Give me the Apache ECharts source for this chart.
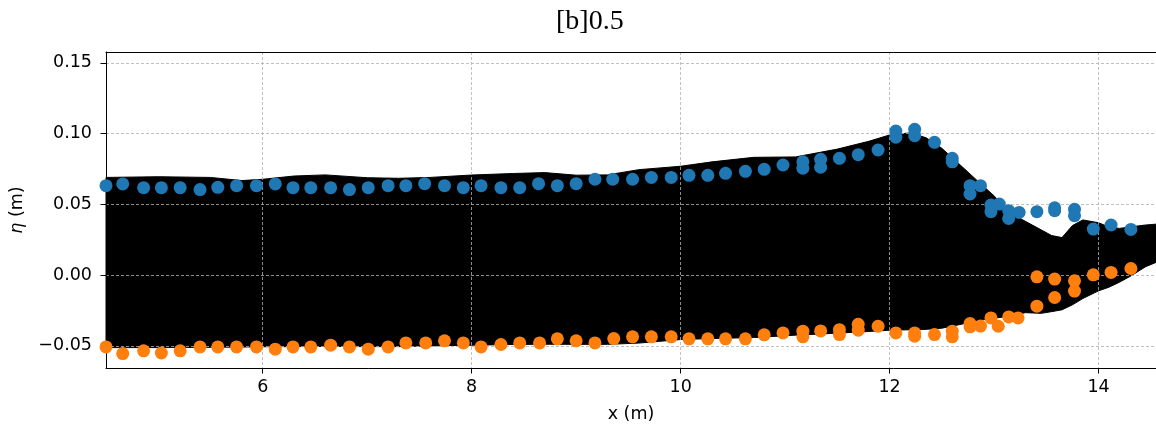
<!DOCTYPE html>
<html>
<head>
<meta charset="utf-8">
<script src="https://cdn.jsdelivr.net/npm/echarts@6/dist/echarts.min.js"></script>
<style>
  html, body { margin: 0; padding: 0; background: #fff; }
  #chart { width: 1156px; height: 430px; }
</style>
</head>
<body>
<div id="chart"></div>
<script>
// envelope of the surface elevation (black band)
const envX = [4.5, 5.0, 5.5, 5.8, 6.0, 6.3, 6.6, 7.0, 7.3, 7.6, 8.0, 8.4, 8.7, 9.0, 9.3, 9.6,
  10.0, 10.3, 10.7, 11.1, 11.5, 11.8, 12.0, 12.2, 12.35, 12.5, 12.7, 12.85, 13.0, 13.15,
  13.3, 13.45, 13.55, 13.65, 13.75, 13.85, 14.0, 14.1, 14.2, 14.3, 14.45, 14.55]
const envUpper = [0.069, 0.0695, 0.069, 0.0668, 0.0677, 0.070, 0.0708, 0.0688, 0.0684, 0.069,
  0.0707, 0.0718, 0.0724, 0.0706, 0.0708, 0.0745, 0.0769, 0.080, 0.0832, 0.0835, 0.089,
  0.0945, 0.099, 0.1005, 0.097, 0.0896, 0.0762, 0.066, 0.056, 0.044, 0.038, 0.032, 0.028,
  0.0265, 0.035, 0.039, 0.037, 0.034, 0.033, 0.034, 0.0354, 0.036]
const envLower = [-0.0512, -0.0512, -0.051, -0.0508, -0.0506, -0.0505, -0.0504, -0.0505,
  -0.0505, -0.050, -0.0495, -0.049, -0.0488, -0.0489, -0.0489, -0.048, -0.0455, -0.0448,
  -0.0441, -0.0424, -0.041, -0.0398, -0.0389, -0.0386, -0.0383, -0.0375, -0.0345, -0.032,
  -0.0305, -0.029, -0.0265, -0.027, -0.0258, -0.0245, -0.021, -0.0165, -0.0111, -0.0085,
  -0.005, -0.001, 0.0059, 0.009]

// measured crests (blue) and troughs (orange)
const crestX = [4.50, 4.66, 4.86, 5.03, 5.21, 5.40, 5.57, 5.75, 5.94, 6.12, 6.29, 6.46, 6.65,
  6.83, 7.01, 7.20, 7.37, 7.55, 7.74, 7.92, 8.09, 8.28, 8.46, 8.64, 8.82, 9.00, 9.18, 9.35,
  9.54, 9.72, 9.91, 10.08, 10.26, 10.43, 10.62, 10.80, 10.98, 11.17, 11.17, 11.34, 11.34,
  11.52, 11.70, 11.89, 12.06, 12.06, 12.24, 12.24, 12.43, 12.60, 12.60, 12.77, 12.77, 12.87,
  12.97, 12.97, 13.05, 13.14, 13.14, 13.24, 13.41, 13.58, 13.58, 13.77, 13.77, 13.95, 14.12, 14.31]
const crestY = [0.0632, 0.0644, 0.0618, 0.0618, 0.0618, 0.0604, 0.0620, 0.0632, 0.0632, 0.0644,
  0.0618, 0.0618, 0.0618, 0.0604, 0.0618, 0.0632, 0.0632, 0.0646, 0.0632, 0.0618, 0.0632,
  0.0618, 0.0618, 0.0646, 0.0632, 0.0646, 0.0677, 0.0677, 0.0677, 0.0690, 0.0690, 0.0705,
  0.0705, 0.0719, 0.0733, 0.0747, 0.0778, 0.0800, 0.0755, 0.0818, 0.0762, 0.0825, 0.0851,
  0.0884, 0.1018, 0.0974, 0.1030, 0.0985, 0.0938, 0.0825, 0.0800, 0.0632, 0.0573, 0.0632,
  0.0495, 0.0448, 0.0502, 0.0455, 0.0400, 0.0443, 0.0448, 0.0476, 0.0455, 0.0465, 0.0420,
  0.0325, 0.0354, 0.0323]

const troughX = [4.50, 4.66, 4.86, 5.03, 5.21, 5.40, 5.57, 5.75, 5.94, 6.12, 6.29, 6.46, 6.65,
  6.83, 7.01, 7.20, 7.37, 7.56, 7.74, 7.92, 8.09, 8.28, 8.46, 8.65, 8.82, 9.00, 9.18, 9.36,
  9.54, 9.72, 9.91, 10.08, 10.26, 10.43, 10.62, 10.80, 10.98, 11.17, 11.17, 11.34, 11.52,
  11.52, 11.70, 11.70, 11.89, 12.06, 12.24, 12.24, 12.43, 12.60, 12.60, 12.77, 12.77, 12.87,
  12.97, 13.04, 13.14, 13.23, 13.41, 13.41, 13.58, 13.58, 13.77, 13.77, 13.95, 14.12, 14.31]
const troughY = [-0.0507, -0.0554, -0.0535, -0.0550, -0.0535, -0.0507, -0.0507, -0.0507,
  -0.0507, -0.0523, -0.0507, -0.0507, -0.0495, -0.0507, -0.0523, -0.0507, -0.0479, -0.0479,
  -0.0464, -0.0479, -0.0507, -0.0490, -0.0479, -0.0479, -0.0450, -0.0464, -0.0479, -0.0448,
  -0.0436, -0.0436, -0.0436, -0.0450, -0.0450, -0.0450, -0.0450, -0.0422, -0.0408, -0.0396,
  -0.0436, -0.0394, -0.0385, -0.0420, -0.0347, -0.0389, -0.0361, -0.0408, -0.0408, -0.0431,
  -0.0420, -0.0396, -0.0436, -0.0342, -0.0365, -0.0360, -0.0302, -0.0361, -0.0295, -0.0302,
  -0.0219, -0.0012, -0.0028, -0.0158, -0.0040, -0.0113, 0.0002, 0.0019, 0.0047]

const xMin = 4.5
const xMax = 14.55
const yMin = -0.0656
const yMax = 0.1576

const chart = echarts.init(document.getElementById('chart'), null, { renderer: 'canvas' })

const labelFont = { color: '#000', fontFamily: 'DejaVu Sans', fontSize: 17.5 }
const gridLine = { show: true, lineStyle: { color: '#b0b0b0', width: 0.8, type: [3, 2] } }

// band between lower and upper envelope, drawn through the axes' coord()
function renderBand(params, api) {
  const pts = []
  for (let i = 0; i < envX.length; i++) pts.push(api.coord([envX[i], envUpper[i]]))
  for (let i = envX.length - 1; i >= 0; i--) pts.push(api.coord([envX[i], envLower[i]]))
  return {
    type: 'polygon',
    shape: { points: pts },
    style: { fill: '#000', stroke: '#000', lineWidth: 1 }
  }
}

const option = {
  animation: false,
  backgroundColor: '#fff',
  title: {
    text: '[b]0.5',
    left: 551,
    top: 3,
    textStyle: { fontFamily: 'Liberation Serif', fontSize: 28, fontWeight: 'normal', color: '#000' }
  },
  grid: { left: 106, right: -10, top: 52, bottom: 62 },
  xAxis: [
    {
      type: 'value',
      min: xMin,
      max: xMax,
      z: 3,
      minInterval: 2,
      maxInterval: 2,
      name: 'x (m)',
      nameLocation: 'middle',
      nameGap: 37,
      nameTextStyle: labelFont,
      axisLine: { show: true, onZero: false, lineStyle: { color: '#000', width: 1 } },
      axisTick: { show: true, length: 5.5, lineStyle: { color: '#000', width: 1 } },
      axisLabel: Object.assign({ margin: 10, showMinLabel: false, showMaxLabel: false,
        formatter: v => String(v) }, labelFont),
      splitLine: gridLine
    },
    {
      type: 'value',
      position: 'top',
      min: xMin,
      max: xMax,
      z: 3,
      axisLine: { show: true, onZero: false, lineStyle: { color: '#000', width: 1 } },
      axisTick: { show: false },
      axisLabel: { show: false },
      splitLine: { show: false }
    }
  ],
  yAxis: {
    type: 'value',
    min: yMin,
    max: yMax,
    z: 3,
    minInterval: 0.05,
    maxInterval: 0.05,
    name: '{i|η} (m)',
    nameLocation: 'middle',
    nameGap: 80,
    nameTextStyle: Object.assign({
      rich: { i: { fontStyle: 'italic', fontFamily: 'DejaVu Sans', fontSize: 17.5, color: '#000' } }
    }, labelFont),
    axisLine: { show: true, onZero: false, lineStyle: { color: '#000', width: 1 } },
    axisTick: { show: true, length: 5.5, lineStyle: { color: '#000', width: 1 } },
    axisLabel: Object.assign({ margin: 14, showMinLabel: false, showMaxLabel: false,
      formatter: v => v.toFixed(2).replace('-', '\u2212') }, labelFont),
    splitLine: gridLine
  },
  series: [
    {
      name: 'band',
      type: 'custom',
      z: 1,
      silent: true,
      renderItem: renderBand,
      data: [[envX[0], envLower[0]]]
    },
    {
      name: 'crest',
      type: 'scatter',
      z: 5,
      symbolSize: 13,
      itemStyle: { color: '#1f77b4', opacity: 1 },
      data: crestX.map((x, i) => [x, crestY[i]])
    },
    {
      name: 'trough',
      type: 'scatter',
      z: 6,
      symbolSize: 13,
      itemStyle: { color: '#ff7f0e', opacity: 1 },
      data: troughX.map((x, i) => [x, troughY[i]])
    }
  ]
}

chart.setOption(option)
</script>
</body>
</html>
